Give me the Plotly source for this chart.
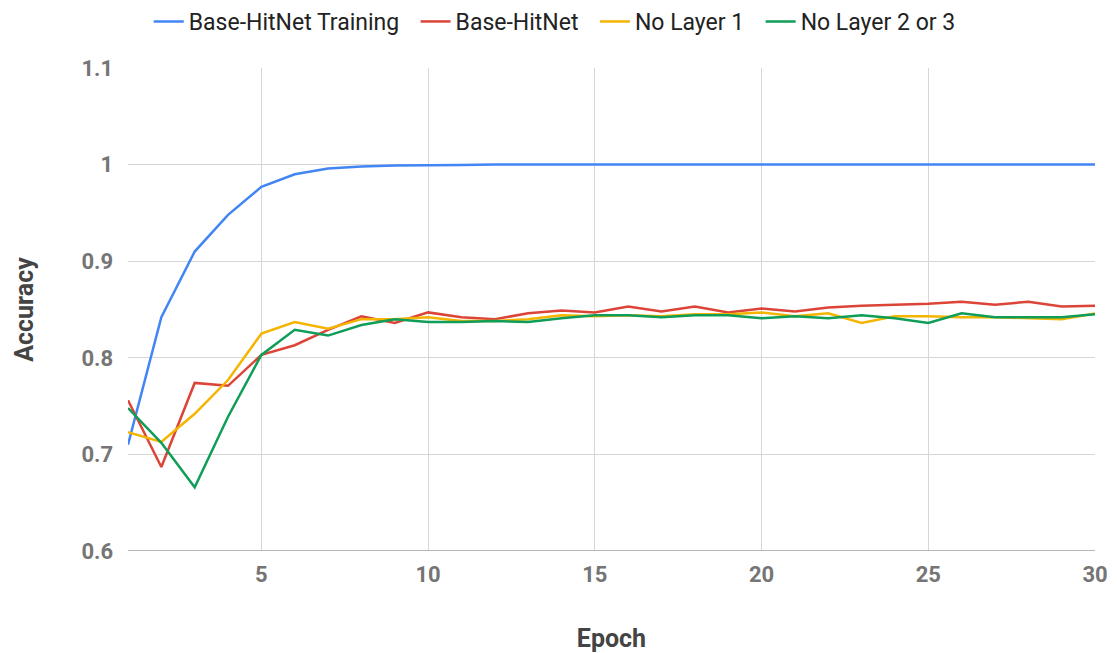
import plotly.graph_objects as go

epochs = list(range(1, 31))

base_training = [0.710, 0.842, 0.910, 0.948, 0.977, 0.990, 0.996, 0.998, 0.999, 0.999,
                 0.9995, 1.0, 1.0, 1.0, 1.0, 1.0, 1.0, 1.0, 1.0, 1.0,
                 1.0, 1.0, 1.0, 1.0, 1.0, 1.0, 1.0, 1.0, 1.0, 1.0]
base_hitnet = [0.756, 0.687, 0.774, 0.771, 0.803, 0.813, 0.829, 0.843, 0.836, 0.847,
               0.842, 0.840, 0.846, 0.849, 0.847, 0.853, 0.848, 0.853, 0.847, 0.851,
               0.848, 0.852, 0.854, 0.855, 0.856, 0.858, 0.855, 0.858, 0.853, 0.854]
no_layer_1 = [0.723, 0.713, 0.742, 0.777, 0.825, 0.837, 0.830, 0.840, 0.840, 0.842,
              0.838, 0.838, 0.840, 0.844, 0.843, 0.844, 0.843, 0.845, 0.845, 0.847,
              0.843, 0.846, 0.836, 0.843, 0.843, 0.842, 0.842, 0.841, 0.840, 0.846]
no_layer_2_3 = [0.748, 0.712, 0.666, 0.739, 0.803, 0.829, 0.823, 0.834, 0.840, 0.837,
                0.837, 0.838, 0.837, 0.841, 0.844, 0.844, 0.842, 0.844, 0.844, 0.841,
                0.843, 0.841, 0.844, 0.841, 0.836, 0.846, 0.842, 0.842, 0.842, 0.845]

series = [
    ("Base-HitNet Training", base_training, "#4285F4"),
    ("Base-HitNet", base_hitnet, "#DB4437"),
    ("No Layer 1", no_layer_1, "#F4B400"),
    ("No Layer 2 or 3", no_layer_2_3, "#0F9D58"),
]

x_ticks = [5, 10, 15, 20, 25, 30]
y_ticks = [0.6, 0.7, 0.8, 0.9, 1.0, 1.1]
y_tick_text = ["0.6", "0.7", "0.8", "0.9", "1", "1.1"]

# extra spacing after each legend entry
pad = "\u00a0" * 2

fig = go.Figure()
for name, vals, color in series:
    fig.add_trace(go.Scatter(x=epochs, y=vals, name=name + pad, mode="lines",
                             line=dict(color=color, width=2.5)))

tick_font = dict(family="Roboto", size=22, color="#757575", weight="bold")
title_font = dict(family="Roboto", size=25, color="#444444", weight="bold")

fig.update_layout(
    width=1117, height=653,
    margin=dict(l=128, r=22, t=68, b=102),
    paper_bgcolor="white", plot_bgcolor="white",
    font=dict(family="Roboto"),
    legend=dict(orientation="h", x=0.447, xanchor="center",
                y=1.0, yref="container", yanchor="top",
                font=dict(family="Roboto", size=23, color="#222222"),
                itemwidth=30, tracegroupgap=0),
    xaxis=dict(range=[1, 30], tickvals=x_ticks, tickfont=tick_font, automargin=False,
               showgrid=True, gridcolor="#d6d6d6", gridwidth=1,
               zeroline=False, showline=False, ticks="", ticklabelstandoff=8,
               title=dict(text="Epoch", font=title_font, standoff=44)),
    yaxis=dict(range=[0.6, 1.1], tickvals=y_ticks, ticktext=y_tick_text, tickfont=tick_font,
               automargin=False,
               showgrid=True, gridcolor="#d6d6d6", gridwidth=1,
               zeroline=False, showline=False, ticks="", ticklabelstandoff=14,
               title=dict(text="Accuracy", font=title_font, standoff=40)),
)

# darker baseline along the bottom of the plot area
fig.add_shape(type="line", xref="paper", yref="y", x0=0, x1=1, y0=0.6, y1=0.6,
              line=dict(color="#9e9e9e", width=1.5))

fig.write_html("out.html")
